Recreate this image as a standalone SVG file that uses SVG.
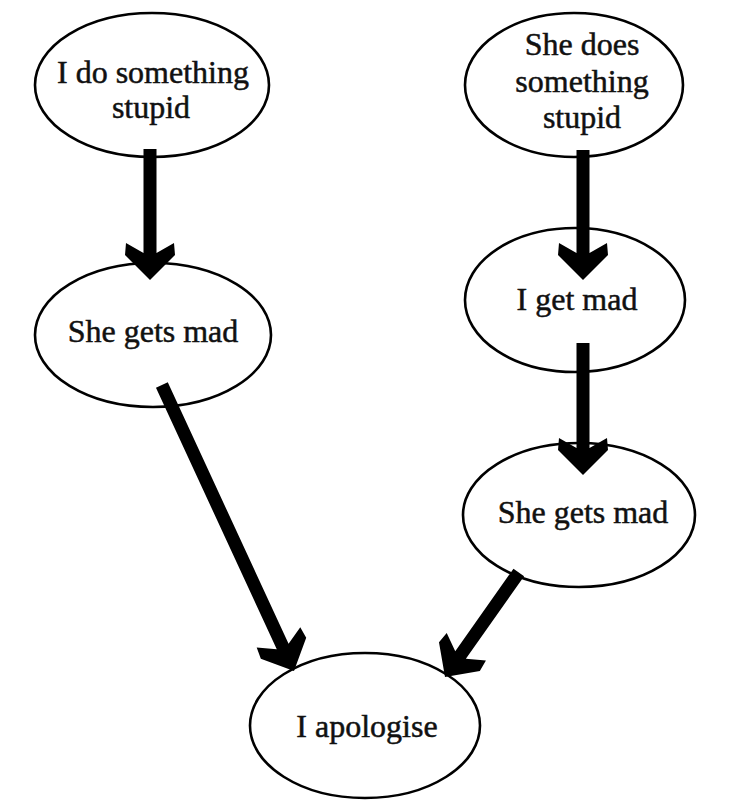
<svg xmlns="http://www.w3.org/2000/svg" width="735" height="811" viewBox="0 0 735 811">
<style>
.node ellipse{fill:#fff;stroke:#000;stroke-width:2.6}
.node text{font-family:"Liberation Serif","Times New Roman",serif;font-size:32px;fill:#111;stroke:#111;stroke-width:0.5;text-anchor:middle}
.arrow{fill:#000}
</style>
<rect width="735" height="811" fill="#fff"/>
<g id="nodes">
<g id="n1" class="node"><ellipse cx="152" cy="85" rx="117" ry="72"/><text x="153" y="83">I do something</text><text x="151" y="118">stupid</text></g>
<g id="n2" class="node"><ellipse cx="153" cy="335" rx="118" ry="72"/><text x="153" y="342">She gets mad</text></g>
<g id="n3" class="node"><ellipse cx="574" cy="85" rx="109" ry="72"/><text x="582" y="55">She does</text><text x="582" y="92">something</text><text x="582" y="128">stupid</text></g>
<g id="n4" class="node"><ellipse cx="575" cy="300" rx="110" ry="72"/><text x="577" y="310">I get mad</text></g>
<g id="n5" class="node"><ellipse cx="579" cy="515" rx="116" ry="72"/><text x="583" y="523">She gets mad</text></g>
<g id="n6" class="node"><ellipse cx="365" cy="725.5" rx="115" ry="72.5"/><text x="367" y="737">I apologise</text></g>
</g>
<g id="connectors">
<path class="arrow" transform="translate(150,280)" d="M-6.5,-131L6.5,-131L6.5,-27L24,-37L25,-25L0,0L-25,-25L-24,-37L-6.5,-27Z"/>
<path class="arrow" transform="translate(583,280)" d="M-6.5,-130L6.5,-130L6.5,-27L24,-37L25,-25L0,0L-25,-25L-24,-37L-6.5,-27Z"/>
<path class="arrow" transform="translate(583,475)" d="M-6.5,-132L6.5,-132L6.5,-27L24,-37L25,-25L0,0L-25,-25L-24,-37L-6.5,-27Z"/>
<path class="arrow" transform="translate(294,671) rotate(-24.8)" d="M-6.5,-315L6.5,-315L6.5,-27L24,-37L25,-25L0,0L-25,-25L-24,-37L-6.5,-27Z"/>
<path class="arrow" transform="translate(445,677) rotate(35.2)" d="M-6.5,-128L6.5,-128L6.5,-27L24,-37L25,-25L0,0L-25,-25L-24,-37L-6.5,-27Z"/>
</g>
</svg>
